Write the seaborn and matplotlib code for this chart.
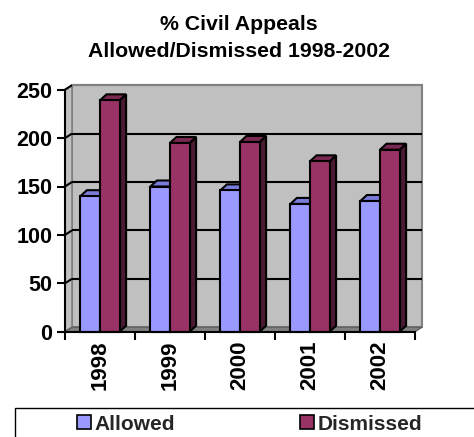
import matplotlib
matplotlib.use("Agg")
import matplotlib.pyplot as plt
from matplotlib.patches import Polygon, Rectangle, Patch
import pandas as pd
import seaborn as sns

# ---- data -------------------------------------------------------------
years = ["1998", "1999", "2000", "2001", "2002"]
allowed = [140, 150, 146, 132, 135]
dismissed = [239, 195, 196, 176, 188]
series_names = ["Allowed", "Dismissed"]
title_lines = ["% Civil Appeals", "Allowed/Dismissed 1998-2002"]
y_ticks = [0, 50, 100, 150, 200, 250]

df = pd.DataFrame({
    "Year": years + years,
    "Series": [series_names[0]] * len(years) + [series_names[1]] * len(years),
    "Count": allowed + dismissed,
})

# ---- styling ----------------------------------------------------------
front_colors = {"Allowed": "#9999FF", "Dismissed": "#993366"}
top_colors = {"Allowed": "#7B7BD9", "Dismissed": "#7A2952"}
side_colors = {"Allowed": "#4D4D80", "Dismissed": "#4A1A33"}
wall_color = "#C0C0C0"
floor_color = "#808080"

sns.set_theme(style="white")
plt.rcParams["font.family"] = ["Liberation Sans", "DejaVu Sans"]
plt.rcParams["font.weight"] = "bold"

W, H = 474, 437
fig = plt.figure(figsize=(W / 100, H / 100), dpi=100)
fig.patch.set_facecolor("white")

# front plane of the plot (pixel geometry)
ax_left, ax_right, ax_zero, ax_top = 65, 415, 331.7, 89.7
ax = fig.add_axes([ax_left / W, (H - ax_zero) / H,
                   (ax_right - ax_left) / W, (ax_zero - ax_top) / H])
ax.set_facecolor("none")

sns.barplot(data=df, x="Year", y="Count", hue="Series", order=years,
            hue_order=series_names, palette=front_colors, saturation=1,
            width=0.56, dodge=True, edgecolor="black", linewidth=1.5,
            ax=ax, legend=False)

ymax = y_ticks[-1]
ax.set_xlim(-0.5, len(years) - 0.5)
ax.set_ylim(0, ymax)

# pixel -> data conversion
px_x = len(years) / (ax_right - ax_left)
px_y = ymax / (ax_zero - ax_top)

# ---- walls and floor --------------------------------------------------
wdx, wdy = 7 * px_x, 4.5 * px_y
x0, x1 = -0.5, len(years) - 0.5
ax.add_patch(Rectangle((x0 + wdx, wdy), x1 - x0, ymax, facecolor=wall_color,
                       edgecolor=floor_color, linewidth=1.5, zorder=0.5,
                       clip_on=False))
ax.add_patch(Polygon([(x0, 0), (x0 + wdx, wdy), (x0 + wdx, ymax + wdy), (x0, ymax)],
                     closed=True, facecolor=wall_color, edgecolor=floor_color,
                     linewidth=1.2, zorder=0.6, clip_on=False))
ax.add_patch(Polygon([(x0, 0), (x1, 0), (x1 + wdx, wdy), (x0 + wdx, wdy)],
                     closed=True, facecolor=floor_color, edgecolor="#606060",
                     linewidth=1.0, zorder=0.7, clip_on=False))
for v in y_ticks[1:]:
    color = "black" if v < ymax else floor_color
    ax.plot([x0, x0 + wdx], [v, v + wdy], color="black", lw=1.5,
            zorder=0.8, clip_on=False, solid_capstyle="butt")
    ax.plot([x0 + wdx, x1 + wdx], [v + wdy, v + wdy], color=color, lw=1.5,
            zorder=0.8, clip_on=False, solid_capstyle="butt")

# ---- 3-D bar faces ----------------------------------------------------
bdx, bdy = 6.5 * px_x, 6 * px_y
for j, (cont, name) in enumerate(zip(ax.containers, series_names)):
    for i, bar in enumerate(cont):
        bx, bw, bh = bar.get_x(), bar.get_width(), bar.get_height()
        z = 3 + i * 0.1 + j * 0.03
        ax.add_patch(Polygon([(bx + bw, 0), (bx + bw + bdx, bdy),
                              (bx + bw + bdx, bh + bdy), (bx + bw, bh)],
                             closed=True, facecolor=side_colors[name],
                             edgecolor="black", linewidth=1.5,
                             joinstyle="miter", zorder=z, clip_on=False))
        ax.add_patch(Polygon([(bx, bh), (bx + bdx, bh + bdy),
                              (bx + bw + bdx, bh + bdy), (bx + bw, bh)],
                             closed=True, facecolor=top_colors[name],
                             edgecolor="black", linewidth=1.5,
                             joinstyle="miter", zorder=z, clip_on=False))
        bar.set_zorder(z + 0.01)
        bar.set_clip_on(False)

# ---- axes, ticks, labels ----------------------------------------------
for side in ["top", "right"]:
    ax.spines[side].set_visible(False)
for side in ["left", "bottom"]:
    ax.spines[side].set_visible(True)
    ax.spines[side].set_color("black")
    ax.spines[side].set_linewidth(1.5)
    ax.spines[side].set_zorder(5)

ax.set_yticks(y_ticks)
ax.set_yticklabels([str(v) for v in y_ticks])
ax.set_xticks(range(len(years)))
ax.set_xticklabels(years, rotation=90)
ax.set_xticks([k - 0.5 for k in range(len(years) + 1)], minor=True)
ax.tick_params(axis="y", left=True, direction="out", length=6, width=1.5,
               color="black", pad=3, labelsize=15.5, labelcolor="black")
ax.tick_params(axis="x", which="major", bottom=True, length=0, pad=6,
               labelsize=16, labelcolor="black")
ax.tick_params(axis="x", which="minor", bottom=True, direction="out",
               length=6, width=1.5, color="black")
for lab in ax.get_xticklabels() + ax.get_yticklabels():
    lab.set_fontweight("bold")
ax.set_xlabel("")
ax.set_ylabel("")
ax.grid(False)

# ---- title ------------------------------------------------------------
for line, base in zip(title_lines, [30, 57]):
    fig.text(239 / W, 1 - base / H, line, ha="center", va="baseline",
             fontsize=15.3, fontweight="bold", color="black")

# ---- legend -----------------------------------------------------------
fig.patches.append(Rectangle((15 / W, -0.1), 1.0, (H - 408) / H + 0.1,
                             transform=fig.transFigure, fill=False,
                             edgecolor="black", linewidth=1.0))
handles = [Patch(facecolor=front_colors[n], edgecolor="black", linewidth=1.2)
           for n in series_names]
fig.legend(handles, series_names, ncol=2, frameon=False, loc="center left",
           bbox_to_anchor=(77 / W, (H - 424) / H), borderaxespad=0,
           borderpad=0, handlelength=0.65, handleheight=0.65,
           handletextpad=0.2, columnspacing=6.0,
           prop={"weight": "bold", "size": 15})

fig.savefig("out.png", dpi=100)
